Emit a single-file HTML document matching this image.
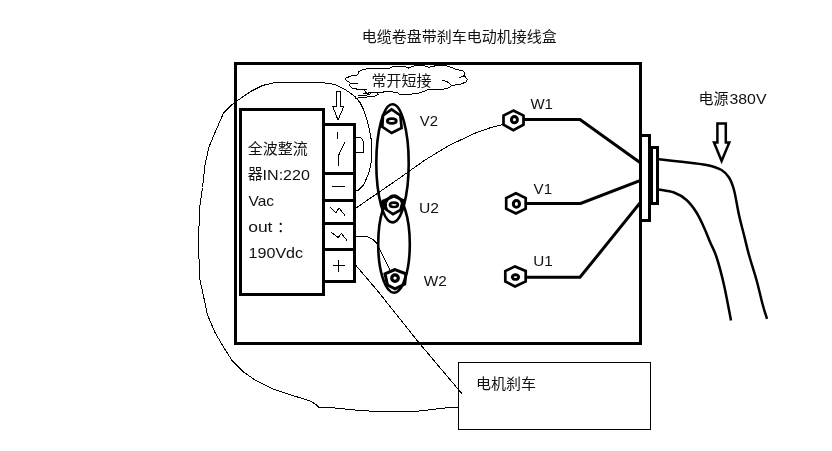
<!DOCTYPE html>
<html lang="zh"><head><meta charset="utf-8"><title>电缆卷盘带刹车电动机接线盒</title>
<style>
html,body{margin:0;padding:0;background:#fff}
body{width:832px;height:451px;overflow:hidden;font-family:"Liberation Sans",sans-serif}
svg{display:block;position:absolute;left:0;top:0;will-change:transform}
svg text{font-family:"Liberation Sans","Noto Sans CJK SC",sans-serif}
</style></head><body>
<svg width="832" height="451" viewBox="0 0 832 451">
<g fill="none" stroke="#000" stroke-width="1" shape-rendering="crispEdges"><polyline points="458.0,407.0 445.0,408.0 417.5,411.2 380.0,411.8 355.0,410.0 330.0,407.5 318.5,407.2 316.5,405.0 311.0,401.2 295.0,396.2 272.5,388.8 255.0,380.0 242.5,371.2 232.5,361.2 223.8,347.5 215.0,332.5 207.5,315.0 203.8,297.5 200.0,280.0 198.8,255.0 198.8,230.0 200.0,205.0 202.5,187.5 205.0,165.0 208.8,147.5 215.0,132.5 223.8,112.5 233.8,103.0 240.0,98.8 251.2,91.2 262.5,85.5 275.0,82.5 322.0,82.5 335.0,84.5 345.5,89.7 354.7,96.3 360.0,102.5 363.0,108.5 366.3,117.5 369.0,128.0 371.3,140.0 372.0,150.0 371.5,160.0 370.0,168.0 368.5,174.0 363.5,185.0 358.5,190.0 356.0,190.5"/><polyline points="356.0,208.0 375.0,195.0 400.0,177.8 425.0,160.0 450.0,145.0 475.0,133.2 490.0,127.8 503.0,124.5"/><path d="M356,236.5 H366 Q373,238 377.3,244 L381.5,253 L389.8,269.6"/><polyline points="356.0,265.6 377.3,290.5 417.5,341.0 462.0,393.8"/><rect x="458.5" y="362.5" width="192" height="67"/><polygon points="336.0,91.5 340.5,91.5 340.5,106.0 344.0,106.0 338.0,120.0 332.5,106.0 336.0,106.0"/><path d="M356,137.5 H359.5 Q363.5,138.5 363.5,144 V152.5 H356"/><path d="M337.5,132 V139 M345,142 L338.5,155.5 V166"/><path d="M331.5,186.5 H345"/><polyline points="330.5,207.5 336.0,213.0 339.0,208.0 345.0,215.5"/><polyline points="331.0,232.0 338.0,237.5 341.5,233.5 347.0,240.5"/><path d="M332.5,265.5 H345 M338.5,259.5 V272"/><polyline points="345.1,78.3 351.4,75.9 357.6,74.9 358.6,72.0 362.9,69.6 367.7,68.7 385.0,68.5 388.0,69.1 392.7,66.7 405.2,66.5 408.1,68.2 414.4,65.8 425.0,66.0 428.8,67.2 436.5,65.6 446.2,65.6 451.9,67.7 456.7,69.6 462.5,70.6 464.9,73.0 463.9,75.9 458.7,77.8"/><polyline points="464.4,75.9 467.3,79.2 465.9,82.1 459.6,84.5 451.4,85.5 449.0,87.9 442.3,89.3 427.9,89.8 423.0,91.7 416.3,93.7 400.0,94.8 398.5,93.2 389.8,91.3 377.3,92.7 362.9,93.2"/><polyline points="441.8,80.2 447.1,81.6 451.0,85.0 451.4,85.5"/><polyline points="345.1,78.3 346.6,80.7 350.4,83.1 357.6,83.4"/><polyline points="350.4,83.1 349.5,85.5 352.3,88.4 362.0,89.8 366.8,89.3"/><polyline points="377.3,92.7 378.3,94.1 374.5,96.5 359.0,97.5 355.2,98.9"/><polyline points="363.9,89.7 366.4,93.2 370.0,94.5"/><polyline points="358.0,95.6 366.0,95.2 371.5,93.6"/></g>
<g fill="none" stroke="#000" stroke-width="3" shape-rendering="crispEdges"><rect x="235.5" y="63.5" width="405" height="280"/><rect x="240.5" y="109.5" width="83" height="185"/><rect x="323.5" y="124.5" width="31" height="157"/><path d="M323.5,173.5 H354.5"/><path d="M323.5,200.5 H354.5"/><path d="M323.5,223.5 H354.5"/><path d="M323.5,249.5 H354.5"/><path d="M641,135.5 H649.5 V220.5 H641"/><path d="M650,147.5 H657.5 V203.5 H650"/><path d="M652,147.5 V203.5" stroke-width="2"/></g>
<g fill="none" stroke="#000" stroke-width="3" stroke-linejoin="miter"><polyline points="523.5,119.6 580.0,119.6 640.0,162.5"/><polyline points="526.0,203.4 580.6,203.4 640.0,180.6"/><polyline points="526.0,277.3 580.0,277.3 640.0,203.0"/></g>
<g fill="none" stroke="#000" stroke-width="2.5"><path d="M659.0,159.3 C663.2,159.8 676.1,161.1 684.0,162.0 C691.9,162.9 700.2,163.7 706.5,165.0 C712.8,166.3 717.8,167.9 721.5,170.0 C725.2,172.1 726.9,174.2 729.0,177.5 C731.1,180.8 732.3,183.8 734.0,190.0 C735.7,196.2 737.3,207.5 739.0,215.0 C740.7,222.5 742.3,228.3 744.0,235.0 C745.7,241.7 746.9,247.5 749.0,255.0 C751.1,262.5 754.2,271.7 756.5,280.0 C758.8,288.3 761.0,298.5 762.8,305.0 C764.5,311.5 766.3,316.5 767.0,318.8"/><path d="M659.0,189.5 C661.5,190.0 669.4,190.8 674.0,192.5 C678.6,194.2 682.8,196.7 686.5,200.0 C690.2,203.3 693.6,207.9 696.5,212.5 C699.4,217.1 701.7,222.5 704.0,227.5 C706.3,232.5 708.2,237.6 710.3,242.5 C712.4,247.4 714.2,249.9 716.5,257.0 C718.8,264.1 721.6,274.4 724.0,285.0 C726.4,295.6 729.8,314.6 731.0,320.5"/></g>
<polygon points="717.4,123.4 725.8,123.4 725.8,142.6 729.3,142.6 721.6,161.0 714.0,142.6 717.4,142.6" fill="none" stroke="#000" stroke-width="2.5" stroke-linejoin="miter"/>
<ellipse cx="392.5" cy="163.3" rx="16.2" ry="59.1" fill="none" stroke="#000" stroke-width="2.6"/>
<ellipse cx="394" cy="244.1" rx="15.8" ry="48.6" fill="none" stroke="#000" stroke-width="2.6"/>
<polygon points="391.6,109.3 383.0,115.5 382.3,126.8 391.6,133.0 401.6,128.0 400.4,115.5" fill="none" stroke="#000" stroke-width="2.7" stroke-linejoin="miter"/><ellipse cx="391.8" cy="121.0" rx="4.5" ry="2.4" fill="#fff" stroke="#000" stroke-width="2.7"/>
<polygon points="379.5,201.5 384,199.5 387,204 386.5,211 382.5,208.5" fill="#000"/>
<polygon points="394.0,196.2 383.5,200.8 386.8,210.0 393.0,214.2 400.5,210.0 403.0,200.2" fill="none" stroke="#000" stroke-width="2.7" stroke-linejoin="miter"/><ellipse cx="393.9" cy="204.8" rx="4.0" ry="2.2" fill="#fff" stroke="#000" stroke-width="2.6"/>
<polygon points="395.0,269.5 385.0,273.8 387.5,285.0 395.0,288.8 404.8,284.0 405.8,273.8" fill="none" stroke="#000" stroke-width="3.0" stroke-linejoin="miter"/><ellipse cx="395.0" cy="278.1" rx="3.3" ry="3.3" fill="#fff" stroke="#000" stroke-width="3.2"/>
<polygon points="513.3,110.6 503.5,115.5 503.5,124.8 513.3,130.1 523.5,124.8 523.5,115.5" fill="none" stroke="#000" stroke-width="2.7" stroke-linejoin="miter"/><ellipse cx="514.4" cy="119.7" rx="3.0" ry="3.1" fill="#fff" stroke="#000" stroke-width="3.0"/>
<polygon points="515.9,193.3 506.2,198.0 506.2,208.7 515.9,213.5 525.7,208.7 525.7,198.0" fill="none" stroke="#000" stroke-width="2.7" stroke-linejoin="miter"/><ellipse cx="516.4" cy="203.9" rx="3.1" ry="3.4" fill="#fff" stroke="#000" stroke-width="3.0"/>
<polygon points="515.0,266.4 505.3,271.0 505.3,281.5 515.0,286.4 525.7,281.5 525.7,271.0" fill="none" stroke="#000" stroke-width="2.7" stroke-linejoin="miter"/><ellipse cx="515.5" cy="277.1" rx="3.2" ry="2.3" fill="#fff" stroke="#000" stroke-width="2.9"/>
<g font-family="'Liberation Sans','Noto Sans CJK SC',sans-serif" fill="#111">
<text x="361.7" y="41.6" font-size="15">电缆卷盘带刹车电动机接线盒</text>
<text x="371.5" y="86.1" font-size="15">常开短接</text>
<text x="247.7" y="154.4" font-size="15">全波整流</text>
<text x="247.7" y="178.9" font-size="15">器</text>
<text x="698.5" y="103.9" font-size="15">电源</text>
<text x="476.0" y="388.9" font-size="15">电机刹车</text>
<text x="276.9" y="231.6" font-size="15">：</text>
</g>
<g font-family="'Liberation Sans',sans-serif">
<text x="530.40" y="108.50" font-size="14.50" fill="#111" textLength="22.50" lengthAdjust="spacingAndGlyphs">W1</text>
<text x="533.60" y="193.80" font-size="14.50" fill="#111" textLength="18.50" lengthAdjust="spacingAndGlyphs">V1</text>
<text x="533.20" y="266.20" font-size="14.50" fill="#111" textLength="19.50" lengthAdjust="spacingAndGlyphs">U1</text>
<text x="419.80" y="125.80" font-size="14.50" fill="#111" textLength="18.20" lengthAdjust="spacingAndGlyphs">V2</text>
<text x="419.00" y="212.60" font-size="14.50" fill="#111" textLength="20.00" lengthAdjust="spacingAndGlyphs">U2</text>
<text x="423.80" y="285.60" font-size="14.50" fill="#111" textLength="23.00" lengthAdjust="spacingAndGlyphs">W2</text>
<text x="729.50" y="103.80" font-size="14.50" fill="#111" textLength="37.00" lengthAdjust="spacingAndGlyphs">380V</text>
<text x="262.60" y="180.00" font-size="14.50" fill="#111" textLength="47.30" lengthAdjust="spacingAndGlyphs">IN:220</text>
<text x="248.60" y="205.80" font-size="14.50" fill="#111" textLength="25.50" lengthAdjust="spacingAndGlyphs">Vac</text>
<text x="248.20" y="231.80" font-size="14.50" fill="#111" textLength="24.30" lengthAdjust="spacingAndGlyphs">out</text>
<text x="248.60" y="257.50" font-size="14.50" fill="#111" textLength="54.50" lengthAdjust="spacingAndGlyphs">190Vdc</text>
</g>
</svg>
</body></html>
